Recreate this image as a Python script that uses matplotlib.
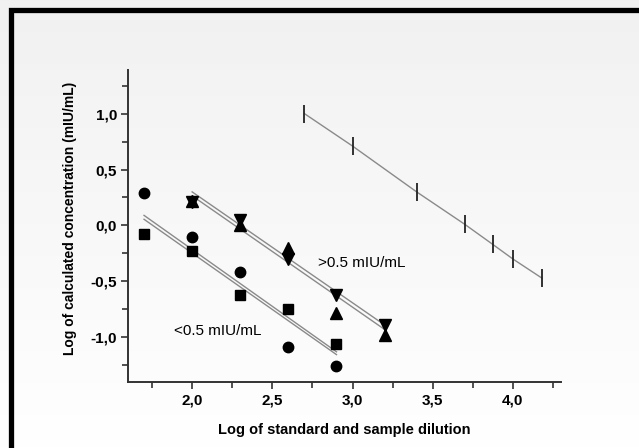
import numpy as np
import matplotlib
matplotlib.use("Agg")
import matplotlib.pyplot as plt
from matplotlib.ticker import MultipleLocator, FuncFormatter
from matplotlib.patches import Rectangle

# ---- data ----
x_samples = [1.7, 2.0, 2.3, 2.6, 2.9]
y_circles = [0.29, -0.10, -0.42, -1.09, -1.26]
y_squares = [-0.08, -0.23, -0.62, -0.75, -1.06]

x_high = [2.0, 2.3, 2.6, 2.9, 3.2]
y_tri_up = [0.22, 0.00, -0.20, -0.78, -0.98]
y_tri_down = [0.21, 0.05, -0.30, -0.62, -0.89]

x_std = [2.7, 3.0, 3.4, 3.7, 3.875, 4.0, 4.18]
y_std = [1.00, 0.71, 0.30, 0.01, -0.17, -0.30, -0.47]

# regression line endpoints
low_line_x = [1.7, 2.9]
low_line1_y = [0.09, -1.13]
low_line2_y = [0.055, -1.155]
high_line_x = [2.0, 3.2]
high_line1_y = [0.30, -0.89]
high_line2_y = [0.265, -0.93]

xticks = [2.0, 2.5, 3.0, 3.5, 4.0]
yticks = [-1.0, -0.5, 0.0, 0.5, 1.0]

plt.rcParams['font.family'] = ['Liberation Sans', 'DejaVu Sans']

fig = plt.figure(figsize=(6.39, 4.48), dpi=100)

# background gradient
bg = fig.add_axes([0, 0, 1, 1], zorder=-10)
grad = np.linspace(0.945, 1.0, 256).reshape(-1, 1)
bg.imshow(np.dstack([grad, grad, grad]), aspect='auto', extent=[0, 1, 0, 1],
          origin='upper')
bg.set_xlim(0, 1); bg.set_ylim(0, 1)
bg.axis('off')
# frame (left & top visible)
fig.patches.append(Rectangle((11 / 639, -0.1), 1.2, 1.1 - 10 / 448,
                             transform=fig.transFigure, fill=False,
                             edgecolor='black', linewidth=3.8, zorder=-5))

ax = fig.add_axes([128 / 639, 66 / 448, 433 / 639, 312 / 448])
ax.patch.set_alpha(0)

gray = '#8a8a8a'
ax.plot(low_line_x, low_line1_y, color=gray, lw=1.0)
ax.plot(low_line_x, low_line2_y, color=gray, lw=1.0)
ax.plot(high_line_x, high_line1_y, color=gray, lw=1.0)
ax.plot(high_line_x, high_line2_y, color=gray, lw=1.0)
ax.plot(x_std, y_std, color=gray, lw=1.0)

ax.plot(x_samples, y_circles, 'o', color='black', ms=7.5, ls='none')
ax.plot(x_samples, y_squares, 's', color='black', ms=6.5, ls='none')
ax.plot(x_high, y_tri_up, '^', color='black', ms=8.5, ls='none')
ax.plot(x_high, y_tri_down, 'v', color='black', ms=8.5, ls='none')
ax.plot(x_std, y_std, '|', color='#222222', ms=13, mew=1.3, ls='none')

ax.text(2.786, -0.337, '>0.5 mIU/mL', fontsize=11, va='center', ha='left')
ax.text(1.886, -0.941, '<0.5 mIU/mL', fontsize=11, va='center', ha='left')

ax.set_xlim(1.6, 4.3)
ax.set_ylim(-1.4, 1.39)
ax.set_xticks(xticks)
ax.set_yticks(yticks)
ax.xaxis.set_minor_locator(MultipleLocator(0.25))
ax.yaxis.set_minor_locator(MultipleLocator(0.25))
fmt = FuncFormatter(lambda v, p: f"{v:.1f}".replace('.', ','))
ax.xaxis.set_major_formatter(fmt)
ax.yaxis.set_major_formatter(fmt)

for s in ['top', 'right']:
    ax.spines[s].set_visible(False)
for s in ['left', 'bottom']:
    ax.spines[s].set_color('#333333')
    ax.spines[s].set_linewidth(1.4)

ax.tick_params(which='both', direction='out', color='#333333', width=1.2)
ax.tick_params(which='major', length=5, labelsize=11, pad=3)
ax.tick_params(which='minor', length=4)
for lab in ax.get_xticklabels() + ax.get_yticklabels():
    lab.set_fontweight('bold')

ax.set_xlabel('Log of standard and sample dilution', fontsize=10.5,
              fontweight='bold')
ax.set_ylabel('Log of calculated concentration (mIU/mL)', fontsize=10,
              fontweight='bold')
ax.xaxis.label.set_va('center')
ax.yaxis.label.set_va('center')
ax.xaxis.set_label_coords(0.5, -0.154)
ax.yaxis.set_label_coords(-0.134, 0.526)

fig.savefig('out.png', dpi=100)
